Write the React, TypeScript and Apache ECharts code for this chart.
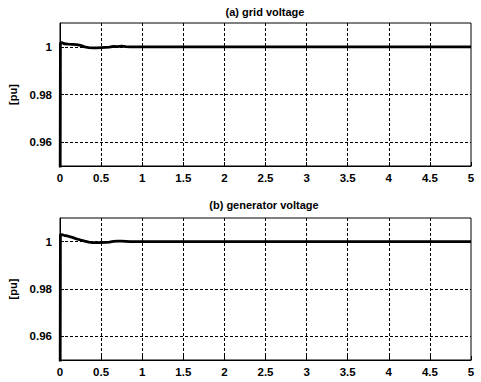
import React, { useEffect, useRef } from "react";
import * as echarts from "echarts";

const timeA = [0, 0.005, 0.02, 0.05, 0.1, 0.15, 0.2, 0.25, 0.3, 0.35, 0.4, 0.45, 0.5, 0.55, 0.6, 0.65, 0.7, 0.75, 0.8, 0.85, 0.9, 1, 1.5, 2, 2.5, 3, 3.5, 4, 4.5, 5];
const gridVoltage = [0.9, 1.0016, 1.0018, 1.0013, 1.0011, 1.001, 1.0009, 1.0006, 1.0, 0.9997, 0.9996, 0.9996, 0.9997, 0.9998, 0.9999, 1.0002, 1.0001, 1.0003, 1.0001, 1.0, 1.0, 1.0, 1.0, 1.0, 1.0, 1.0, 1.0, 1.0, 1.0, 1.0];
const generatorVoltage = [0.9, 1.003, 1.003, 1.0027, 1.0023, 1.0018, 1.0012, 1.0007, 1.0002, 0.9998, 0.9996, 0.9996, 0.9996, 0.9997, 0.9998, 1.0001, 1.0002, 1.0002, 1.0001, 1.0, 1.0, 1.0, 1.0, 1.0, 1.0, 1.0, 1.0, 1.0, 1.0, 1.0];
const yTickValues = [0.96, 0.98, 1];
const titles = ["(a) grid voltage", "(b) generator voltage"];
const yName = "[pu]";

const FONT = "'Liberation Sans', Arial, sans-serif";

export default function App() {
  const ref = useRef<HTMLDivElement>(null);
  useEffect(() => {
    if (!ref.current) return;
    const chart = echarts.init(ref.current, null, { renderer: "svg" });
    const grids = [
      { left: 60, top: 23, width: 411, height: 143 },
      { left: 60, top: 218, width: 411, height: 142 },
    ];
    const dash = [3, 2];
    const mkX = (i: number) => ({
      type: "value",
      gridIndex: i,
      min: 0,
      max: 5,
      interval: 0.5,
      axisLine: { show: true, lineStyle: { color: "#000", width: 1 } },
      axisTick: { show: true, inside: true, length: 4, lineStyle: { color: "#000" } },
      axisLabel: { color: "#000", fontSize: 11.5, fontWeight: "bold", fontFamily: FONT, margin: 6, formatter: (v: number) => String(v) },
      splitLine: { show: true, showMinLine: false, showMaxLine: false, lineStyle: { color: "#000", type: dash, width: 1 } },
    });
    const mkY = (i: number) => ({
      type: "value",
      gridIndex: i,
      min: 0.95,
      max: 1.01,
      interval: 0.01,
      name: yName,
      nameLocation: "middle",
      nameGap: 34,
      nameRotate: 90,
      nameTextStyle: { color: "#000", fontSize: 11, fontWeight: "bold", fontFamily: FONT },
      axisLine: { show: true, lineStyle: { color: "#000", width: 1 } },
      axisTick: { show: true, inside: true, length: 4, customValues: yTickValues, lineStyle: { color: "#000" } },
      axisLabel: {
        color: "#000",
        fontSize: 11.5,
        fontWeight: "bold",
        fontFamily: FONT,
        margin: 8,
        customValues: yTickValues,
        formatter: (v: number) => {
          const k = Math.round(v * 100);
          if (k % 2 !== 0) return "";
          return k === 100 ? "1" : (k / 100).toFixed(2);
        },
      },
      splitLine: { show: false },
    });
    const mkSeries = (i: number, vals: number[]) => ({
      type: "line",
      xAxisIndex: i,
      yAxisIndex: i,
      data: timeA.map((t, j) => [t, vals[j]]),
      showSymbol: false,
      symbol: "none",
      lineStyle: { color: "#000", width: 2.8 },
      clip: true,
      markLine: {
        silent: true,
        symbol: ["none", "none"],
        label: { show: false },
        lineStyle: { color: "#000", type: dash, width: 1 },
        data: yTickValues.map((y) => ({ yAxis: y })),
      },
    });
    chart.setOption({
      animation: false,
      backgroundColor: "#fff",
      grid: grids.map((g) => ({ ...g, show: true, borderColor: "#000", borderWidth: 1, backgroundColor: "transparent", containLabel: false, outerBoundsMode: "none" })),
      xAxis: [mkX(0), mkX(1)],
      yAxis: [mkY(0), mkY(1)],
      series: [mkSeries(0, gridVoltage), mkSeries(1, generatorVoltage)],
      graphic: [
        { type: "text", x: 265, y: 12, style: { text: titles[0], fill: "#000", fontSize: 11, fontWeight: "bold", fontFamily: FONT, textAlign: "center", textVerticalAlign: "middle" } },
        { type: "text", x: 264, y: 205, style: { text: titles[1], fill: "#000", fontSize: 11, fontWeight: "bold", fontFamily: FONT, textAlign: "center", textVerticalAlign: "middle" } },
      ],
    });
    return () => chart.dispose();
  }, []);
  return <div ref={ref} style={{ position: "absolute", left: 0, top: 0, width: 481, height: 382 }} />;
}
